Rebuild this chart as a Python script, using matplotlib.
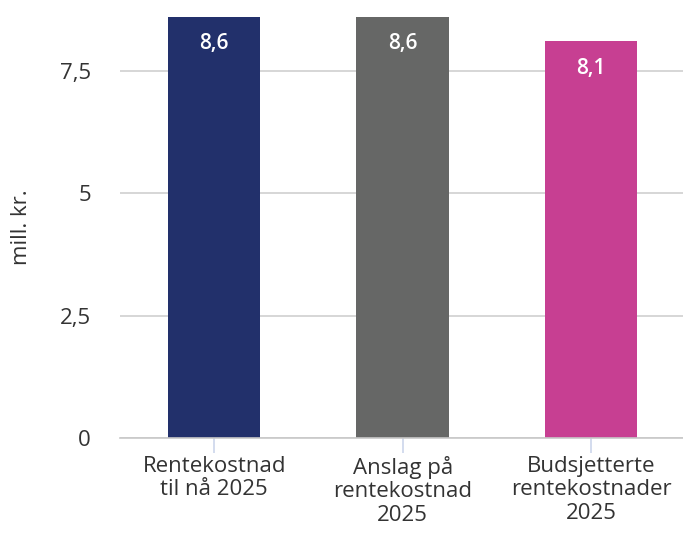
import matplotlib
matplotlib.use("Agg")
import matplotlib.pyplot as plt

categories = ["Rentekostnad\ntil nå 2025", "Anslag på\nrentekostnad\n2025", "Budsjetterte\nrentekostnader\n2025"]
values = [8.6, 8.6, 8.1]
value_labels = ["8,6", "8,6", "8,1"]
colors = ["#22306b", "#666766", "#c73f92"]
yticks = [0, 2.5, 5, 7.5]
ytick_labels = ["0", "2,5", "5", "7,5"]

plt.rcParams['font.family'] = ['Open Sans', 'DejaVu Sans']

W, H = 683, 537
fig = plt.figure(figsize=(W/100, H/100), dpi=100)
ax = fig.add_axes([120/W, (H-438)/H, (683-120)/W, (438-16)/H])

x = list(range(len(categories)))
ax.bar(x, values, width=0.49, color=colors, zorder=3)
ax.set_xlim(-0.5, 2.488)
ax.set_ylim(0, 8.62)

for xi, v, lab in zip(x, values, value_labels):
    ax.annotate(lab, (xi, v), xytext=(0, -27), textcoords='offset pixels',
                ha='center', va='center', color='white', fontsize=15, fontweight='semibold', zorder=4)

ax.set_yticks(yticks)
ax.set_yticklabels(ytick_labels, fontsize=16, color='#333333')
ax.yaxis.grid(True, color='#d0d0d0', linewidth=1.2, zorder=0)
ax.tick_params(axis='y', length=0, pad=21)

ax.set_xticks(x)
ax.set_xticklabels(categories, fontsize=16, color='#333333', linespacing=1.15)
ax.tick_params(axis='x', length=11, color='#ccd6eb', width=1.2, pad=2)

for s in ['top', 'right', 'left']:
    ax.spines[s].set_visible(False)
ax.spines['bottom'].set_color('#c8c8c8')
ax.spines['bottom'].set_linewidth(1.2)
ax.spines['bottom'].set_zorder(4)

ax.set_ylabel("mill. kr.", fontsize=16, color='#333333')
ax.yaxis.set_label_coords(-88/563, 0.50)

fig.savefig("out.png", dpi=100)
